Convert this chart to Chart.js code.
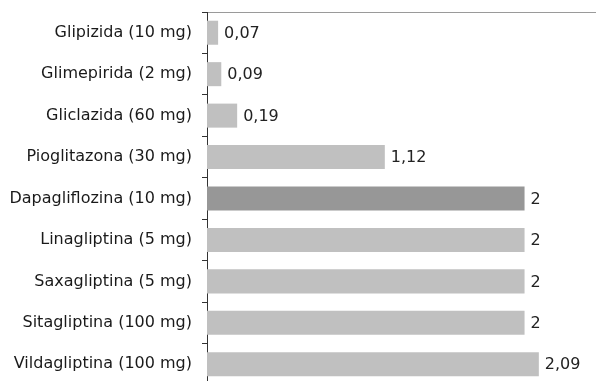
<!DOCTYPE html>
<html>
<head>
<meta charset="utf-8">
<script src="https://cdn.jsdelivr.net/npm/chart.js@4"></script>
<style>
  html, body { margin: 0; padding: 0; background: #fff; overflow: hidden; }
  #wrap { position: relative; width: 596px; height: 385px; }
</style>
</head>
<body>
<div id="wrap"><canvas id="c"></canvas></div>
<script>
const categories = [
  "Glipizida (10 mg)",
  "Glimepirida (2 mg)",
  "Gliclazida (60 mg)",
  "Pioglitazona (30 mg)",
  "Dapagliflozina (10 mg)",
  "Linagliptina (5 mg)",
  "Saxagliptina (5 mg)",
  "Sitagliptina (100 mg)",
  "Vildagliptina (100 mg)"
];
const values = [0.07, 0.09, 0.19, 1.12, 2, 2, 2, 2, 2.09];
const highlighted = "Dapagliflozina (10 mg)";

const barColors = categories.map(c => c === highlighted ? "#979797" : "#c0c0c0");

const valueLabels = {
  id: "valueLabels",
  afterDatasetsDraw(chart) {
    const ctx = chart.ctx;
    const meta = chart.getDatasetMeta(0);
    ctx.save();
    ctx.font = "16px 'DejaVu Sans'";
    ctx.fillStyle = "#222";
    ctx.textAlign = "left";
    ctx.textBaseline = "middle";
    meta.data.forEach((bar, i) => {
      const txt = String(values[i]).replace(".", ",");
      ctx.fillText(txt, bar.x + 6, bar.y + 1);
    });
    ctx.restore();
  }
};

new Chart(document.getElementById("c"), {
  type: "bar",
  data: {
    labels: categories,
    datasets: [{
      data: values,
      backgroundColor: barColors,
      borderWidth: 0,
      barPercentage: 0.58,
      categoryPercentage: 1
    }]
  },
  options: {
    indexAxis: "y",
    responsive: true,
    maintainAspectRatio: false,
    animation: false,
    layout: { padding: { top: 12, right: 0, bottom: 0, left: 0 } },
    plugins: { legend: { display: false }, tooltip: { enabled: false } },
    scales: {
      x: {
        position: "top",
        min: 0,
        max: 2.45,
        ticks: { display: false },
        grid: { display: false, drawTicks: false },
        border: { display: true, color: "#9a9a9a", width: 1 }
      },
      y: {
        afterFit(scale) {
          scale.width = 207;
          scale.paddingTop = 0;
          scale.paddingBottom = 0;
        },
        ticks: {
          color: "#1a1a1a",
          font: { family: "'DejaVu Sans'", size: 16 },
          padding: 10,
          autoSkip: false
        },
        grid: { drawOnChartArea: false, drawTicks: true, tickLength: 5, color: "#333", offset: true },
        border: { display: true, color: "#333", width: 1 }
      }
    }
  },
  plugins: [valueLabels]
});
</script>
</body>
</html>
